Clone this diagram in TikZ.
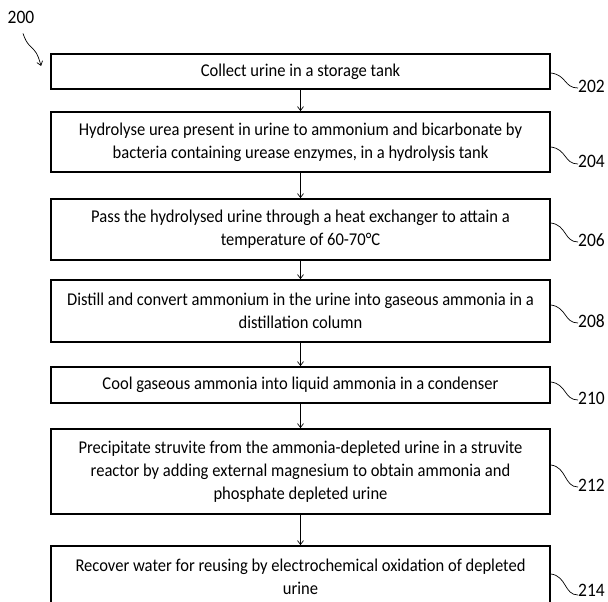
\documentclass[tikz,border=0pt]{standalone}
\usepackage{fontspec}
\setmainfont{Carlito}[FakeStretch=0.92]
\usetikzlibrary{arrows.meta}
\begin{document}
\begin{tikzpicture}[x=1pt,y=-1pt,
  stepbox/.style={draw=black, line width=1.7pt, minimum width=499pt, inner sep=0pt,
    align=center, font=\fontsize{18}{23}\selectfont},
  arr/.style={line width=0.7pt, -{Straight Barb[length=4pt,width=6pt]}},
  leader/.style={line width=0.7pt},
  reflab/.style={font=\fontsize{19}{21}\selectfont, inner sep=0pt, anchor=west}]
\useasboundingbox (0,0) rectangle (608,602);
\clip (0,0) rectangle (608,602);
\node[stepbox, minimum height=35pt] (b1) at (300.5,71.5) {Collect urine in a storage tank};
\node[stepbox, minimum height=60pt] (b2) at (300.5,142) {Hydrolyse urea present in urine to ammonium and bicarbonate by\\bacteria containing urease enzymes, in a hydrolysis tank};
\node[stepbox, minimum height=61pt] (b3) at (300.5,229.5) {Pass the hydrolysed urine through a heat exchanger to attain a\\temperature of 60-70°C};
\node[stepbox, minimum height=62pt] (b4) at (300.5,311) {Distill and convert ammonium in the urine into gaseous ammonia in a\\distillation column};
\node[stepbox, minimum height=36pt] (b5) at (300.5,385) {Cool gaseous ammonia into liquid ammonia in a condenser};
\node[stepbox, minimum height=85pt] (b6) at (300.5,471.5) {Precipitate struvite from the ammonia-depleted urine in a struvite\\reactor by adding external magnesium to obtain ammonia and\\phosphate depleted urine};
\node[stepbox, minimum height=61pt] (b7) at (300.5,576.5) {Recover water for reusing by electrochemical oxidation of depleted\\urine};
\foreach \a/\b in {b1/b2,b2/b3,b3/b4,b4/b5,b5/b6,b6/b7}
  \draw[arr] (\a.south) -- (\b.north);
\node[reflab] (l1) at (578,86) {202};
\node[reflab] (l2) at (578,161) {204};
\node[reflab] (l3) at (578,240) {206};
\node[reflab] (l4) at (578,321) {208};
\node[reflab] (l5) at (578,398) {210};
\node[reflab] (l6) at (578,485) {212};
\node[reflab] (l7) at (578,590) {214};
\foreach \n/\s/\d in {1/-1.5/-2,2/-5/-3,3/6.5/-2,4/6/-2,5/3/-2,6/6.5/-2,7/2.5/-5}
  \draw[leader] ([yshift=\s pt]b\n.east) .. controls +(16,2) and +(-14,0) .. ([yshift=\d pt]l\n.west);
\node[font=\fontsize{19}{21}\selectfont, inner sep=0pt] (t200) at (21,17) {200};
\coordinate (e200) at ([xshift=-9pt,yshift=5.5pt]b1.west);
\draw[arr] ([xshift=2pt,yshift=-10pt]t200.south) .. controls +(4,12) and +(-3,-4) .. (34,50) .. controls +(4,4) and +(-2,-6) .. (e200);
\end{tikzpicture}
\end{document}
